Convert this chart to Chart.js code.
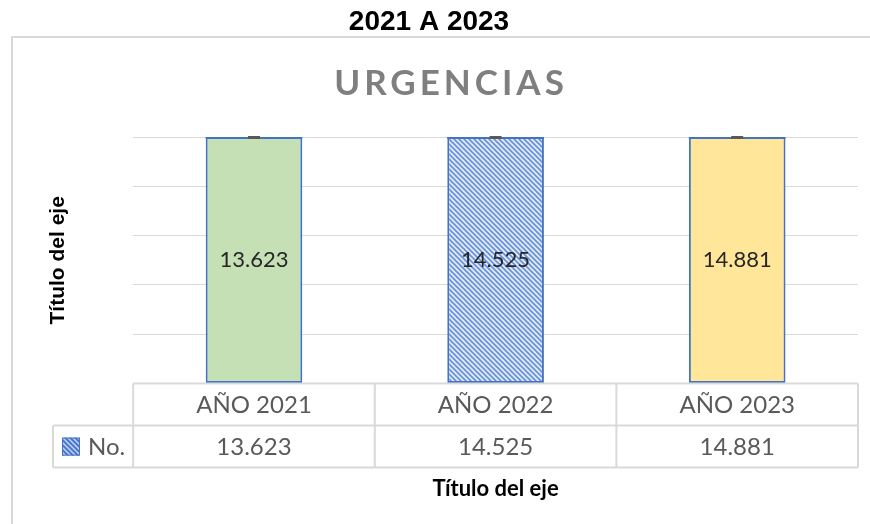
<!DOCTYPE html>
<html>
<head>
<meta charset="utf-8">
<script src="https://cdn.jsdelivr.net/npm/chart.js@4.4.1/dist/chart.umd.min.js"></script>
<style>
  html, body { margin: 0; padding: 0; background: #ffffff; }
  #wrap { width: 870px; height: 524px; }
  canvas { display: block; }
</style>
</head>
<body>
<div id="wrap"><canvas id="chart" width="870" height="524"></canvas></div>
<script>
// Chart content
const categories = ['AÑO 2021', 'AÑO 2022', 'AÑO 2023'];
const seriesName = 'No.';
const values = [13623, 14525, 14881];
const yTicks = [0, 2000, 4000, 6000, 8000, 10000];
const chartTitle = '2021 A 2023';
const panelTitle = 'URGENCIAS';
const yAxisTitle = 'Título del eje';
const xAxisTitle = 'Título del eje';

// Thousands separator with a dot (13623 -> "13.623")
const fmt = n => String(n).replace(/\B(?=(\d{3})+(?!\d))/g, '.');

// Diagonal blue hatch fill
function makeHatch(size, bg, line, width) {
  const c = document.createElement('canvas');
  c.width = size; c.height = size;
  const g = c.getContext('2d');
  g.fillStyle = bg;
  g.fillRect(0, 0, size, size);
  g.strokeStyle = line;
  g.lineWidth = width;
  g.beginPath();
  for (let k = -1; k <= 1; k++) {
    g.moveTo(-1, k * size - 1);
    g.lineTo(size + 1, size + k * size + 1);
  }
  g.stroke();
  return g.createPattern(c, 'repeat');
}
const ctx = document.getElementById('chart').getContext('2d');
const hatch = makeHatch(5, '#e2eaf8', '#6690da', 1.6);
const keyHatch = makeHatch(5, '#4a78cf', '#c9d8f3', 1.4);
const barFills = ['#c5e0b4', hatch, '#ffe699'];
const barEdge = '#4472c4';
const gridColor = '#d9d9d9';

// Page background, outer frame and headings
const framePlugin = {
  id: 'frame',
  beforeDraw(chart) {
    const c = chart.ctx;
    c.save();
    c.fillStyle = '#ffffff';
    c.fillRect(0, 0, chart.width, chart.height);
    c.strokeStyle = gridColor;
    c.lineWidth = 2;
    c.beginPath();
    c.moveTo(chart.width, 37);
    c.lineTo(12, 37);
    c.lineTo(12, chart.height);
    c.stroke();

    c.textAlign = 'center';
    c.textBaseline = 'middle';
    c.fillStyle = '#000000';
    c.font = 'bold 28px "Liberation Sans"';
    c.fillText(chartTitle, 429, 22);

    c.fillStyle = '#7f7f7f';
    c.font = 'bold 35px Lato';
    c.letterSpacing = '4px';
    c.fillText(panelTitle, 451, 84);
    c.restore();
  }
};

// Clipped bar tops and the centred value labels
const barDecor = {
  id: 'barDecor',
  afterDatasetsDraw(chart) {
    const c = chart.ctx;
    const area = chart.chartArea;
    const meta = chart.getDatasetMeta(0);
    c.save();
    meta.data.forEach((el, i) => {
      const half = el.width / 2;
      if (el.y < area.top) {
        c.strokeStyle = barEdge;
        c.lineWidth = 2;
        c.beginPath();
        c.moveTo(el.x - half, area.top + 1);
        c.lineTo(el.x + half, area.top + 1);
        c.stroke();
        c.strokeStyle = '#595959';
        c.lineWidth = 3;
        c.beginPath();
        c.moveTo(el.x - 6, area.top + 0.5);
        c.lineTo(el.x + 6, area.top + 0.5);
        c.stroke();
      }
      const top = Math.max(el.y, area.top);
      const y = (top + el.base) / 2;
      c.fillStyle = '#262626';
      c.font = '22px Lato';
      c.textAlign = 'center';
      c.textBaseline = 'middle';
      c.fillText(fmt(values[i]), el.x, y);
    });
    c.restore();
  }
};

// Data table under the plot
const dataTable = {
  id: 'dataTable',
  afterDraw(chart) {
    const c = chart.ctx;
    const area = chart.chartArea;
    const xs = chart.scales.x;
    const n = categories.length;
    const step = (area.right - area.left) / n;
    const rowH = 42;
    const r0 = area.bottom, r1 = r0 + rowH, r2 = r1 + rowH;
    const keyLeft = 53;
    c.save();
    c.strokeStyle = gridColor;
    c.lineWidth = 2;
    c.beginPath();
    c.moveTo(area.left, r0); c.lineTo(area.right, r0);
    c.moveTo(keyLeft, r1); c.lineTo(area.right, r1);
    c.moveTo(keyLeft, r2); c.lineTo(area.right, r2);
    c.moveTo(keyLeft, r1); c.lineTo(keyLeft, r2);
    for (let i = 0; i <= n; i++) {
      const x = area.left + i * step;
      c.moveTo(x, r0); c.lineTo(x, r2);
    }
    c.stroke();

    c.fillStyle = '#595959';
    c.font = '24px Lato';
    c.textAlign = 'center';
    c.textBaseline = 'middle';
    categories.forEach((cat, i) => {
      const x = xs.getPixelForValue(i);
      c.fillText(cat, x, (r0 + r1) / 2 + 1);
      c.fillText(fmt(values[i]), x, (r1 + r2) / 2 + 1);
    });

    // series key
    const kx = 62, ky = (r1 + r2) / 2 - 9;
    c.fillStyle = keyHatch;
    c.fillRect(kx, ky, 18, 18);
    c.strokeStyle = barEdge;
    c.lineWidth = 1;
    c.strokeRect(kx + 0.5, ky + 0.5, 17, 17);
    c.fillStyle = '#595959';
    c.textAlign = 'left';
    c.fillText(seriesName, 88, (r1 + r2) / 2 + 1);
    c.restore();
  }
};

new Chart(ctx, {
  type: 'bar',
  data: {
    labels: categories,
    datasets: [{
      label: seriesName,
      data: values,
      backgroundColor: barFills,
      borderColor: barEdge,
      borderWidth: 2,
      borderSkipped: false,
      barPercentage: 0.4,
      categoryPercentage: 1.0
    }]
  },
  options: {
    responsive: false,
    animation: false,
    events: [],
    layout: { padding: { left: 14, right: 12, top: 137, bottom: 0 } },
    plugins: {
      legend: { display: false },
      tooltip: { enabled: false },
      title: { display: false }
    },
    scales: {
      x: {
        grid: { display: false, drawTicks: false },
        border: { display: false },
        ticks: { display: false },
        title: {
          display: true,
          text: xAxisTitle,
          color: '#000000',
          font: { family: 'Lato', size: 22, weight: 'bold', lineHeight: 1.2 },
          padding: { top: 92, bottom: 22 }
        }
      },
      y: {
        min: yTicks[0],
        max: yTicks[yTicks.length - 1],
        afterBuildTicks(scale) { scale.ticks = yTicks.map(v => ({ value: v })); },
        grid: { color: gridColor, lineWidth: 1, drawTicks: false },
        border: { display: false },
        ticks: { display: false },
        title: {
          display: true,
          text: yAxisTitle,
          color: '#000000',
          font: { family: 'Liberation Sans', size: 21, weight: 'bold', lineHeight: 1.2 },
          padding: { top: 32, bottom: 62 }
        }
      }
    }
  },
  plugins: [framePlugin, barDecor, dataTable]
});
</script>
</body>
</html>
